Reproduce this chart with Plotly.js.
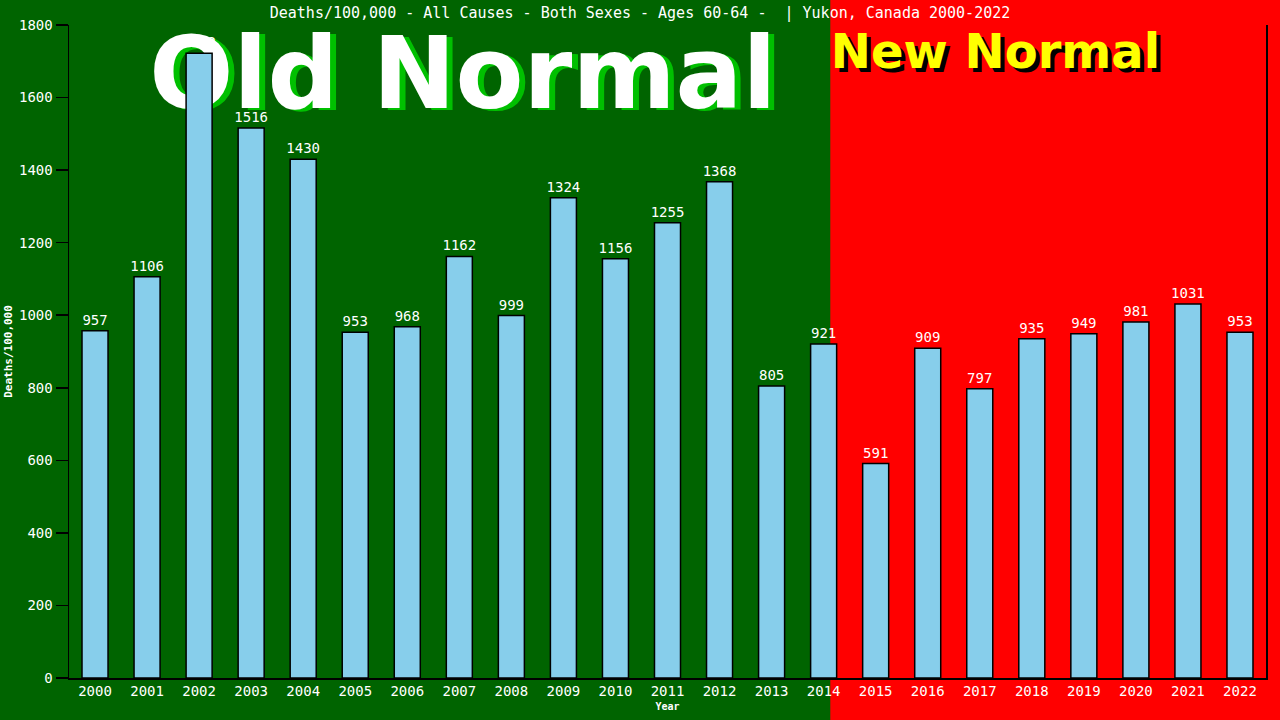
<!DOCTYPE html>
<html>
<head>
<meta charset="utf-8">
<script src="https://cdn.plot.ly/plotly-3.0.1.min.js"></script>
<style>html,body{margin:0;padding:0;background:#006400;}#chart{width:1280px;height:720px;}</style>
</head>
<body>
<div id="chart"></div>
<script>
const years = ["2000","2001","2002","2003","2004","2005","2006","2007","2008","2009","2010","2011","2012","2013","2014","2015","2016","2017","2018","2019","2020","2021","2022"];
const deaths = [957,1106,1722,1516,1430,953,968,1162,999,1324,1156,1255,1368,805,921,591,909,797,935,949,981,1031,953];
const yTicks = [0,200,400,600,800,1000,1200,1400,1600,1800];
const titleText = "Deaths/100,000 - All Causes - Both Sexes - Ages 60-64 -  | Yukon, Canada 2000-2022";
const oldLabel = "Old Normal";
const newLabel = "New Normal";

const mono = "DejaVu Sans Mono, monospace";
const trace = {
  type: "bar",
  x: years,
  y: deaths,
  width: 0.5,
  marker: {color: "#87CEEB", line: {color: "#000000", width: 1.5}},
  text: deaths.map(String),
  textposition: "outside",
  constraintext: "none",
  textfont: {color: "#ffffff", family: mono, size: 14},
  cliponaxis: false,
  hoverinfo: "none"
};

const split = 0.636;
function textShape(txt, cx, cy, dx, dy, size, color) {
  return {type: "rect", xref: "paper", yref: "paper", layer: "below",
    x0: cx - 0.3 + dx, x1: cx + 0.3 + dx, y0: cy - 0.1 + dy, y1: cy + 0.1 + dy,
    fillcolor: "rgba(0,0,0,0)", line: {width: 0},
    label: {text: txt, textposition: "middle center", xanchor: "center", yanchor: "middle", padding: 0,
      font: {family: "DejaVu Sans", size: size, color: color, weight: "bold"}}};
}
const px = 1 / 1197, py = 1 / 653;
const layout = {
  width: 1280, height: 720,
  margin: {l: 69, r: 14, t: 25, b: 42},
  paper_bgcolor: "#006400",
  plot_bgcolor: "rgba(0,0,0,0)",
  showlegend: false,
  bargap: 0.5,
  title: {text: titleText, font: {family: mono, size: 15, color: "#ffffff"}, x: 0.5, xanchor: "center", y: 0.982, yanchor: "middle"},
  xaxis: {
    type: "category",
    showline: true, linecolor: "#000000", linewidth: 1.5,
    showgrid: false, ticks: "", zeroline: false,
    tickfont: {family: mono, size: 14, color: "#ffffff"},
    title: {text: "Year", font: {family: mono, size: 10, color: "#ffffff", weight: "bold"}, standoff: 4}
  },
  yaxis: {
    range: [0, 1800],
    tickvals: yTicks,
    showline: true, mirror: true, linecolor: "#000000", linewidth: 1.5,
    showgrid: false, zeroline: false,
    ticks: "outside", ticklen: 12, tickcolor: "#000000", tickwidth: 1.5,
    tickfont: {family: mono, size: 14, color: "#ffffff"},
    title: {text: "Deaths/100,000", font: {family: mono, size: 11, color: "#ffffff", weight: "bold"}, standoff: 4}
  },
  shapes: [
    {type: "rect", xref: "paper", yref: "paper", x0: -0.1, x1: split, y0: -0.1, y1: 1.1, fillcolor: "#006400", line: {width: 0}, layer: "below"},
    {type: "rect", xref: "paper", yref: "paper", x0: split, x1: 1.1, y0: -0.1, y1: 1.1, fillcolor: "#ff0000", line: {width: 0}, layer: "below"},
    textShape(oldLabel, 0.329, 0.936, 6 * px, -2 * py, 99, "#00c000"),
    textShape(oldLabel, 0.329, 0.936, 0, 0, 99, "#ffffff"),
    textShape(newLabel, split + 0.138, 0.965, 4 * px, -4 * py, 48, "#000000"),
    textShape(newLabel, split + 0.138, 0.965, 0, 0, 48, "#ffff00")
  ]
};

Plotly.newPlot("chart", [trace], layout, {staticPlot: true, displayModeBar: false});
</script>
</body>
</html>
